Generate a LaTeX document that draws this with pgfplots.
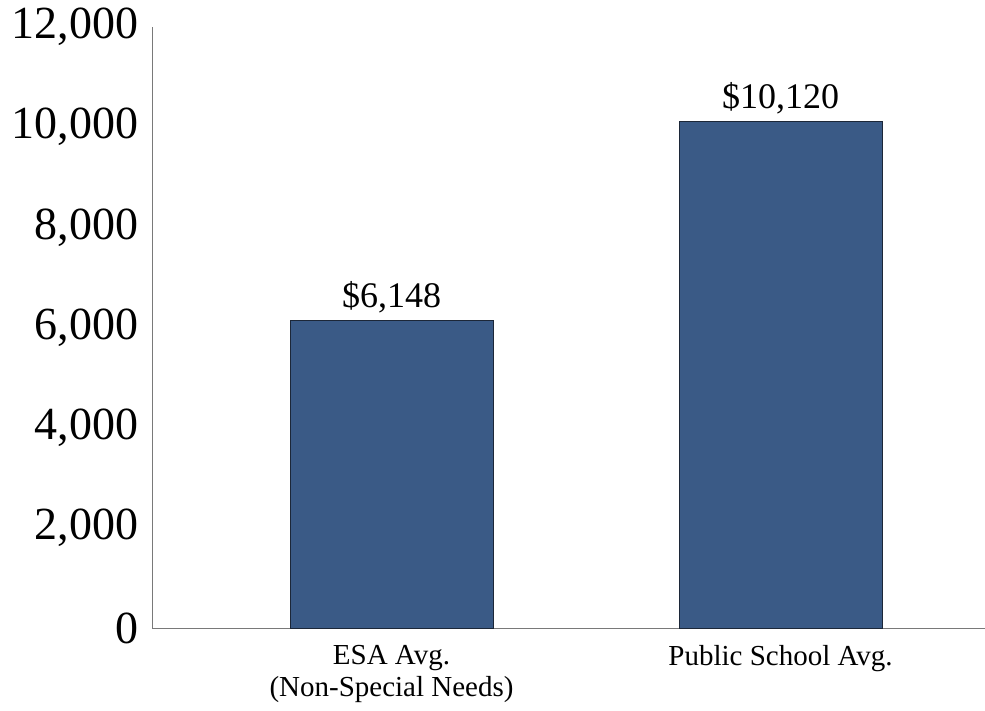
\documentclass[border=0pt]{standalone}
\usepackage{fontspec}
\setmainfont{Liberation Serif}
\usepackage{pgfplots}
\pgfplotsset{compat=1.18}
\definecolor{barblue}{HTML}{3A5A86}
\definecolor{baredge}{HTML}{1C2738}
\begin{document}
\begin{tikzpicture}
\path[use as bounding box] (-152bp,-83bp) rectangle (833bp,628bp);
\begin{axis}[
  at={(0,0)}, anchor=south west,
  scale only axis,
  width=833bp, height=601bp,
  ymin=0, ymax=12000,
  xmin=-0.6157, xmax=1.5257,
  axis x line=bottom, axis y line=left,
  axis line style={-, draw=gray!95!black, line width=0.9bp},
  ytick={0,2000,4000,6000,8000,10000,12000},
  scaled y ticks=false,
  xtick={0,1},
  xticklabels={{ESA Avg.\\(Non-Special Needs)},{Public School Avg.}},
  major tick length=0pt,
  /pgf/number format/.cd, 1000 sep={,}, assume math mode=true, /pgfplots/.cd,
  yticklabel style={font=\fontsize{46bp}{50bp}\selectfont, xshift=-10bp},
  xticklabel style={font=\fontsize{29bp}{32bp}\selectfont, align=center, anchor=north, yshift=-14bp},
  ybar, bar width=203bp,
  nodes near coords={\$\pgfmathprintnumber{\pgfplotspointmeta}},
  every node near coord/.append style={font=\fontsize{36bp}{40bp}\selectfont, anchor=south, text=black, yshift=3bp},
  clip=false,
]
\addplot[fill=barblue, draw=baredge, line width=0.8bp] coordinates {(0,6148) (1,10120)};
\end{axis}
\end{tikzpicture}
\end{document}
